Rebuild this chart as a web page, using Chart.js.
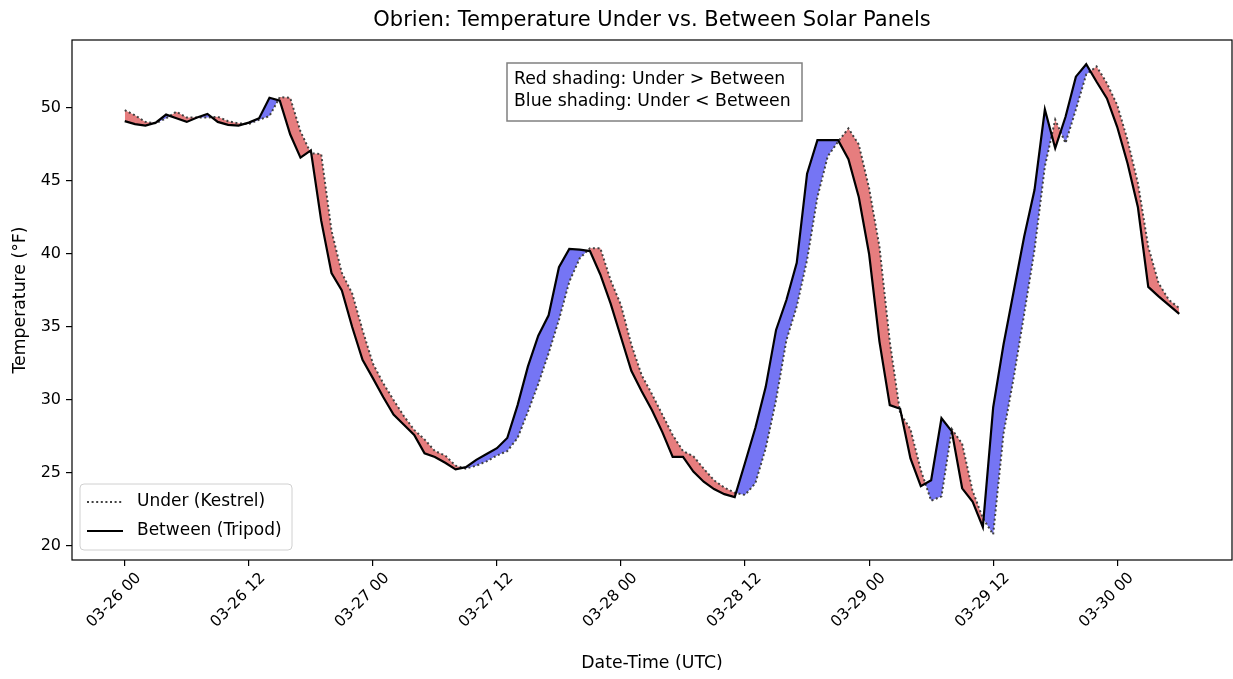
<!DOCTYPE html>
<html>
<head>
<meta charset="utf-8">
<title>Obrien: Temperature Under vs. Between Solar Panels</title>
<script src="https://cdn.jsdelivr.net/npm/chart.js@4.4.1/dist/chart.umd.min.js"></script>
<style>
  html, body { margin: 0; padding: 0; background: #ffffff; }
  #wrap { width: 1233px; height: 679px; }
</style>
</head>
<body>
<div id="wrap"><canvas id="tempChart" width="1233" height="679"></canvas></div>
<script>
// hours since 03-26 00 UTC, one reading per hour
const hours = [
  0, 1, 2, 3, 4, 5, 6, 7, 8, 9, 10, 11, 12, 13, 14, 15, 16, 17, 18, 19,
  20, 21, 22, 23, 24, 25, 26, 27, 28, 29, 30, 31, 32, 33, 34, 35, 36, 37, 38, 39,
  40, 41, 42, 43, 44, 45, 46, 47, 48, 49, 50, 51, 52, 53, 54, 55, 56, 57, 58, 59,
  60, 61, 62, 63, 64, 65, 66, 67, 68, 69, 70, 71, 72, 73, 74, 75, 76, 77, 78, 79,
  80, 81, 82, 83, 84, 85, 86, 87, 88, 89, 90, 91, 92, 93, 94, 95, 96, 97, 98, 99,
  100, 101, 102
];

// Kestrel logger under the panels (°F)
const underTemps = [
  49.85, 49.5, 49.05, 48.95, 49.3, 49.75, 49.35, 49.35, 49.35, 49.4,
  49.1, 48.95, 48.9, 49.2, 49.45, 50.75, 50.7, 48.4, 46.9, 46.85,
  41.6, 38.7, 37.3, 34.8, 32.5, 31.15, 30.0, 28.9, 27.95, 27.3,
  26.5, 26.2, 25.5, 25.3, 25.5, 25.8, 26.2, 26.5, 27.4, 29.2,
  31.1, 33.2, 35.5, 38.1, 39.7, 40.4, 40.4, 38.2, 36.5, 33.8,
  31.7, 30.4, 29.0, 27.6, 26.5, 26.15, 25.3, 24.5, 24.0, 23.65,
  23.5, 24.3, 26.7, 30.0, 34.1, 36.4, 39.6, 43.9, 46.7, 47.7,
  48.6, 47.5, 44.5, 40.5, 34.0, 29.1, 28.0, 25.2, 23.1, 23.4,
  28.0, 27.0, 23.8, 21.9, 20.8, 27.7, 31.6, 35.9, 40.3, 46.0,
  49.2, 47.6, 49.9, 52.3, 52.85, 51.7, 50.2, 47.8, 44.85, 40.5,
  38.0, 36.85, 36.3
];

// tripod sensor between the panel rows (°F)
const betweenTemps = [
  49.1, 48.9, 48.8, 49.0, 49.55, 49.3, 49.05, 49.35, 49.6, 49.05,
  48.85, 48.8, 49.0, 49.3, 50.7, 50.5, 48.2, 46.6, 47.1, 42.3,
  38.7, 37.5, 35.0, 32.75, 31.5, 30.2, 29.0, 28.3, 27.6, 26.35,
  26.1, 25.7, 25.25, 25.4, 25.9, 26.3, 26.7, 27.4, 29.65, 32.3,
  34.4, 35.8, 39.1, 40.35, 40.3, 40.2, 38.6, 36.6, 34.3, 32.0,
  30.6, 29.3, 27.8, 26.1, 26.1, 25.1, 24.4, 23.9, 23.55, 23.35,
  25.7, 28.1, 30.9, 34.8, 36.85, 39.4, 45.5, 47.8, 47.8, 47.8,
  46.5, 43.9, 40.0, 34.0, 29.65, 29.4, 26.0, 24.1, 24.5, 28.75,
  27.85, 23.95, 23.05, 21.3, 29.5, 33.8, 37.5, 41.2, 44.4, 49.9,
  47.25, 49.4, 52.15, 53.0, 51.8, 50.66, 48.7, 46.2, 43.2, 37.75,
  37.1, 36.5, 35.9
];

const tickHours = [0, 12, 24, 36, 48, 60, 72, 84, 96];
const tickLabels = ['03-26 00', '03-26 12', '03-27 00', '03-27 12', '03-28 00',
                    '03-28 12', '03-29 00', '03-29 12', '03-30 00'];
const yTicks = [20, 25, 30, 35, 40, 45, 50];

const seriesNames = ['Under (Kestrel)', 'Between (Tripod)'];
const noteLines = ['Red shading: Under > Between', 'Blue shading: Under < Between'];
const chartTitle = 'Obrien: Temperature Under vs. Between Solar Panels';

const FONT = '"DejaVu Sans", "Liberation Sans", sans-serif';
const RED_FILL = 'rgba(214, 39, 40, 0.6)';
const BLUE_FILL = 'rgba(0, 0, 235, 0.54)';
const UNDER_COLOR = '#404040';
const UNDER_DASH = [2, 2.6];

Chart.defaults.font.family = FONT;
Chart.defaults.color = '#000';

const toPoints = temps => temps.map((t, i) => ({ x: hours[i], y: t }));

// title, frame, note box and legend drawn on top of the plot
const decorations = {
  id: 'decorations',
  afterDraw(chart) {
    const { ctx, chartArea: a } = chart;
    ctx.save();

    ctx.strokeStyle = '#000';
    ctx.lineWidth = 1.2;
    ctx.strokeRect(a.left, a.top, a.right - a.left, a.bottom - a.top);

    ctx.fillStyle = '#000';
    ctx.font = '21px ' + FONT;
    ctx.textAlign = 'center';
    ctx.textBaseline = 'middle';
    ctx.fillText(chartTitle, (a.left + a.right) / 2, 21);

    // shading note
    ctx.font = '17.3px ' + FONT;
    ctx.textAlign = 'left';
    const nx = 507, ny = 63, nw = 295, nh = 58;
    ctx.fillStyle = '#fff';
    ctx.fillRect(nx, ny, nw, nh);
    ctx.strokeStyle = '#808080';
    ctx.lineWidth = 1.5;
    ctx.strokeRect(nx, ny, nw, nh);
    ctx.fillStyle = '#000';
    ctx.fillText(noteLines[0], nx + 7, ny + 17);
    ctx.fillText(noteLines[1], nx + 7, ny + 39);

    // legend
    const lx = 80, ly = 484, lw = 212, lh = 66, r = 4;
    ctx.beginPath();
    ctx.roundRect(lx, ly, lw, lh, r);
    ctx.fillStyle = 'rgba(255,255,255,0.8)';
    ctx.fill();
    ctx.strokeStyle = '#d0d0d0';
    ctx.lineWidth = 1;
    ctx.stroke();

    const rows = [ly + 18, ly + 47];
    ctx.lineWidth = 2;
    ctx.strokeStyle = UNDER_COLOR;
    ctx.setLineDash(UNDER_DASH);
    ctx.beginPath();
    ctx.moveTo(87, rows[0]);
    ctx.lineTo(123, rows[0]);
    ctx.stroke();
    ctx.setLineDash([]);
    ctx.strokeStyle = '#000';
    ctx.lineWidth = 2.2;
    ctx.beginPath();
    ctx.moveTo(87, rows[1]);
    ctx.lineTo(123, rows[1]);
    ctx.stroke();

    ctx.fillStyle = '#000';
    ctx.font = '17px ' + FONT;
    ctx.fillText(seriesNames[0], 137, rows[0]);
    ctx.fillText(seriesNames[1], 137, rows[1]);

    ctx.restore();
  }
};

new Chart(document.getElementById('tempChart'), {
  type: 'line',
  data: {
    datasets: [
      {
        label: seriesNames[1],
        data: toPoints(betweenTemps),
        borderColor: '#000',
        borderWidth: 2.2,
        pointRadius: 0,
        tension: 0,
        fill: false
      },
      {
        label: seriesNames[0],
        data: toPoints(underTemps),
        borderColor: UNDER_COLOR,
        borderWidth: 2,
        borderDash: UNDER_DASH,
        pointRadius: 0,
        tension: 0,
        fill: { target: 0, above: RED_FILL, below: BLUE_FILL }
      }
    ]
  },
  options: {
    responsive: false,
    animation: false,
    devicePixelRatio: 1,
    layout: { padding: { left: 0, right: 1, top: 40, bottom: 0 } },
    plugins: {
      legend: { display: false },
      tooltip: { enabled: false },
      filler: { drawTime: 'beforeDatasetsDraw' }
    },
    scales: {
      x: {
        type: 'linear',
        min: -5.1,
        max: 107.1,
        afterBuildTicks: s => { s.ticks = tickHours.map(v => ({ value: v })); },
        afterFit: s => { s.height = 119; },
        border: { display: false },
        grid: { drawOnChartArea: false, drawTicks: true, tickLength: 6, color: '#000', lineWidth: 1.2 },
        ticks: {
          autoSkip: false,
          minRotation: 45,
          maxRotation: 45,
          padding: 3,
          labelOffset: 14,
          font: { size: 15.5 },
          callback: v => tickLabels[tickHours.indexOf(v)]
        },
        title: { display: true, text: 'Date-Time (UTC)', font: { size: 17.3 }, padding: { bottom: 5, top: 0 } }
      },
      y: {
        min: 19.04,
        max: 54.66,
        afterBuildTicks: s => { s.ticks = yTicks.map(v => ({ value: v })); },
        afterFit: s => { s.width = 72; },
        border: { display: false },
        grid: { drawOnChartArea: false, drawTicks: true, tickLength: 6, color: '#000', lineWidth: 1.2 },
        ticks: { padding: 5, font: { size: 16 } },
        title: { display: true, text: 'Temperature (°F)', font: { size: 17.3 }, padding: { top: 10, bottom: 0 } }
      }
    }
  },
  plugins: [decorations]
});
</script>
</body>
</html>
